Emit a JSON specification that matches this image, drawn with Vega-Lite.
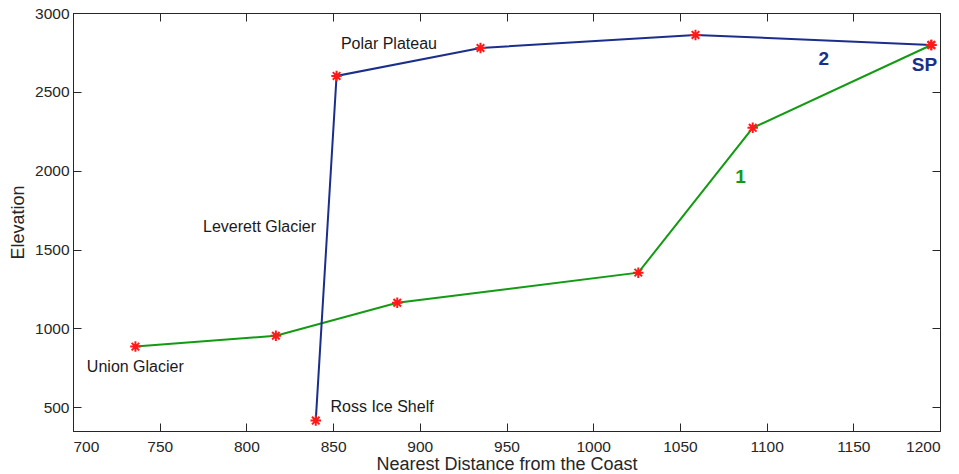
{
  "$schema": "https://vega.github.io/schema/vega-lite/v6.json",
  "width": 867,
  "height": 418,
  "autosize": "none",
  "padding": {"left": 73, "top": 13, "right": 19, "bottom": 43},
  "background": "white",
  "config": {
    "font": "Liberation Sans",
    "view": {"stroke": "#262626", "strokeWidth": 1},
    "axis": {
      "grid": false,
      "domainColor": "#262626",
      "tickColor": "#262626",
      "tickSize": -8,
      "labelFont": "Liberation Sans",
      "labelFontSize": 15.5,
      "labelColor": "#262626",
      "titleFont": "Liberation Sans",
      "titleFontSize": 18,
      "titleFontWeight": "normal",
      "titleColor": "#262626",
      "format": "d"
    }
  },
  "datasets": {
    "route": [
      {"series": "1", "distance": 736, "elevation": 885},
      {"series": "1", "distance": 817, "elevation": 954},
      {"series": "1", "distance": 887, "elevation": 1163},
      {"series": "1", "distance": 1026, "elevation": 1354},
      {"series": "1", "distance": 1092, "elevation": 2272},
      {"series": "1", "distance": 1195, "elevation": 2797},
      {"series": "2", "distance": 840, "elevation": 416},
      {"series": "2", "distance": 852, "elevation": 2601},
      {"series": "2", "distance": 935, "elevation": 2778},
      {"series": "2", "distance": 1059, "elevation": 2861},
      {"series": "2", "distance": 1195, "elevation": 2797}
    ],
    "places": [
      {"label": "Polar Plateau", "distance": 854.5, "elevation": 2804},
      {"label": "Leverett Glacier", "distance": 775, "elevation": 1645},
      {"label": "Union Glacier", "distance": 708, "elevation": 758},
      {"label": "Ross Ice Shelf", "distance": 848.5, "elevation": 505}
    ],
    "tags": [
      {"label": "2", "series": "2", "distance": 1133, "elevation": 2711},
      {"label": "SP", "series": "2", "distance": 1191, "elevation": 2671},
      {"label": "1", "series": "1", "distance": 1085, "elevation": 1961}
    ]
  },
  "layer": [
    {
      "data": {"name": "route"},
      "mark": {"type": "line", "strokeWidth": 2},
      "encoding": {
        "x": {
          "field": "distance", "type": "quantitative",
          "scale": {"domain": [700, 1200], "nice": false, "zero": false},
          "axis": {"values": [700, 750, 800, 850, 900, 950, 1000, 1050, 1100, 1150, 1200], "labelPadding": 16, "title": "Nearest Distance from the Coast", "titlePadding": 1}
        },
        "y": {
          "field": "elevation", "type": "quantitative",
          "scale": {"domain": [350, 3000], "nice": false, "zero": false},
          "axis": {"values": [500, 1000, 1500, 2000, 2500, 3000], "labelPadding": 12, "title": "Elevation", "titlePadding": 7}
        },
        "color": {
          "field": "series", "type": "nominal",
          "scale": {"domain": ["1", "2"], "range": ["#139a13", "#1b2e8c"]},
          "legend": null
        }
      }
    },
    {
      "data": {"name": "route"},
      "mark": {
        "type": "point",
        "shape": "M-1,0L1,0M0,-1L0,1M-0.72,-0.72L0.72,0.72M-0.72,0.72L0.72,-0.72",
        "filled": false,
        "stroke": "#ff1a1a",
        "strokeWidth": 2,
        "size": 110,
        "opacity": 1
      },
      "encoding": {
        "x": {"field": "distance", "type": "quantitative",
          "axis": {"orient": "top", "values": [700, 750, 800, 850, 900, 950, 1000, 1050, 1100, 1150, 1200], "labels": false, "title": null}},
        "y": {"field": "elevation", "type": "quantitative",
          "axis": {"orient": "right", "values": [500, 1000, 1500, 2000, 2500, 3000], "labels": false, "title": null}}
      }
    },
    {
      "data": {"name": "places"},
      "mark": {"type": "text", "align": "left", "baseline": "middle", "fontSize": 16, "color": "#1a1a1a", "font": "Liberation Sans"},
      "encoding": {
        "x": {"field": "distance", "type": "quantitative", "axis": null},
        "y": {"field": "elevation", "type": "quantitative", "axis": null},
        "text": {"field": "label"}
      }
    },
    {
      "data": {"name": "tags"},
      "mark": {"type": "text", "align": "center", "baseline": "middle", "fontSize": 19, "fontWeight": "bold", "font": "Liberation Sans"},
      "encoding": {
        "x": {"field": "distance", "type": "quantitative", "axis": null},
        "y": {"field": "elevation", "type": "quantitative", "axis": null},
        "text": {"field": "label"},
        "color": {"field": "series", "type": "nominal", "legend": null}
      }
    }
  ],
  "resolve": {"axis": {"x": "independent", "y": "independent"}}
}
